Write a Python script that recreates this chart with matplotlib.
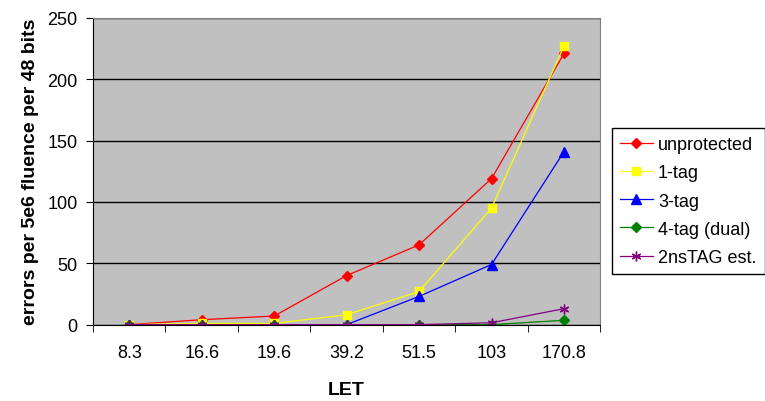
import numpy as np
import matplotlib.pyplot as plt

plt.rcParams['font.family'] = ['Liberation Sans', 'DejaVu Sans']

let_labels = ['8.3', '16.6', '19.6', '39.2', '51.5', '103', '170.8']
unprotected = [0, 4, 7, 40, 65, 119, 221]
tag1 = [0, 1, 1, 8, 27, 95, 227]
tag3 = [0, 0, 0, 0, 23, 49, 141]
tag4_dual = [0, 0, 0, 0, 0, 0, 3.5]
ns2tag_est = [0, 0, 0, 0, 0, 1.5, 13]

fig = plt.figure(figsize=(7.65, 4.02), dpi=100)
ax = fig.add_axes([0.1216, 0.19, 0.663, 0.763])
ax.set_facecolor('#c0c0c0')

x = np.arange(len(let_labels))
ax.plot(x, unprotected, color='red', marker='D', markersize=5, lw=0.9, label='unprotected')
ax.plot(x, tag1, color='yellow', marker='s', markersize=6, lw=0.9, label='1-tag')
ax.plot(x, tag3, color='blue', marker='^', markersize=7, lw=0.9, label='3-tag')
ax.plot(x, tag4_dual, color='green', marker='D', markersize=5, lw=0.9, label='4-tag (dual)')
ax.plot(x, ns2tag_est, color='purple', marker=(6, 2, 0), markersize=7, lw=0.9, label='2nsTAG est.')

ax.set_xlim(-0.5, len(let_labels) - 0.5)
ax.set_ylim(0, 250)
ax.set_yticks(range(0, 251, 50))
ax.yaxis.grid(True, color='black', lw=1)
ax.set_axisbelow(True)

ax.set_xticks(x)
ax.set_xticklabels(let_labels, fontsize=13)
ax.set_xticks(np.arange(-0.5, len(let_labels), 1), minor=True)
ax.tick_params(axis='x', which='major', length=0, pad=14)
ax.tick_params(axis='x', which='minor', length=5, direction='out')
ax.tick_params(axis='y', length=5, labelsize=13, pad=6)

ax.spines['top'].set_color('#808080')
ax.spines['right'].set_color('#808080')
ax.spines['left'].set_color('black')
ax.spines['bottom'].set_color('black')

ax.set_xlabel('LET', fontsize=14, fontweight='bold', labelpad=14)
ax.set_ylabel('errors per 5e6 fluence per 48 bits', fontsize=14, fontweight='bold', labelpad=6)

leg = fig.legend(loc='upper left', bbox_to_anchor=(0.8, 0.679), borderaxespad=0, fontsize=13,
                 frameon=True, fancybox=False, edgecolor='black', framealpha=1,
                 handlelength=1.8, handletextpad=0.3, borderpad=0.45, labelspacing=0.62)
leg.get_frame().set_linewidth(1)

fig.savefig('out.png', dpi=100)
